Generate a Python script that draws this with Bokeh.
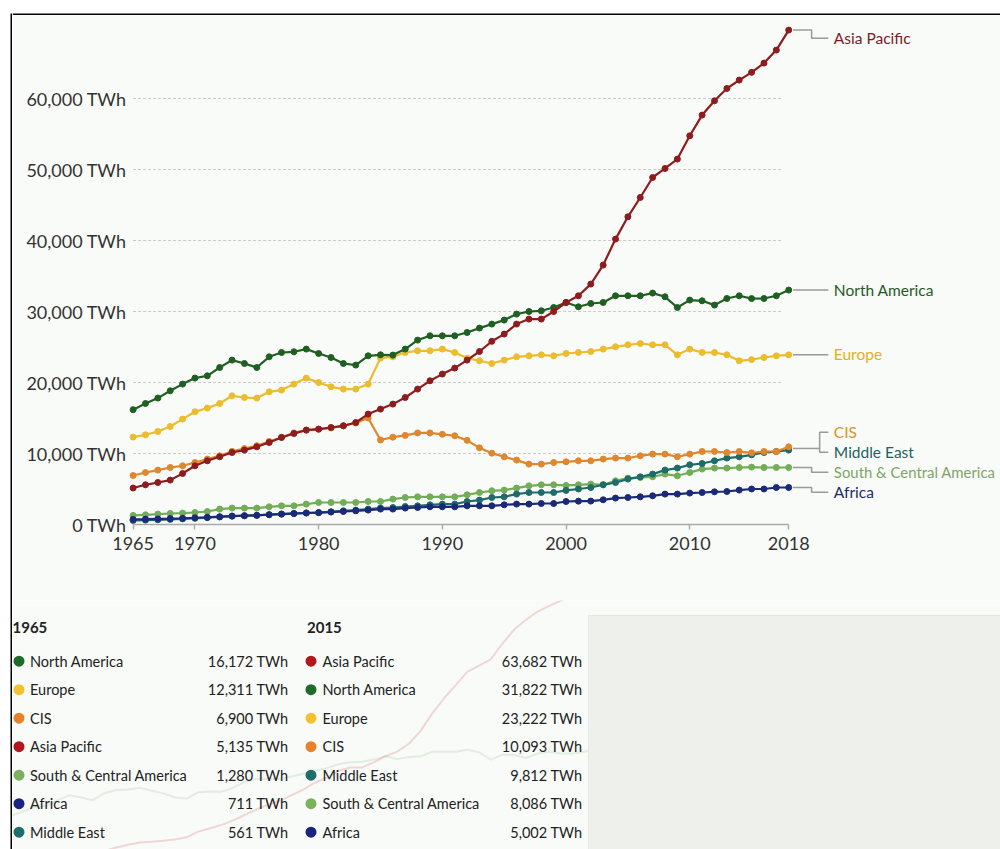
from bokeh.plotting import figure
from bokeh.models import Range1d, FixedTicker, CustomJSTickFormatter, ColumnDataSource
from bokeh.layouts import row, column
from bokeh.core.properties import value
from bokeh.embed import file_html
from bokeh.resources import INLINE

# ---------------- data ----------------
years = list(range(1965, 2019))

asia_pacific = [5135, 5592, 5916, 6254, 7183, 8268, 8972, 9536, 10141, 10479, 10944,
                11550, 12254, 12818, 13296, 13437, 13663, 13902, 14367, 15550, 16254,
                16958, 17888, 19071, 20240, 21184, 22029, 23155, 24367, 25800, 26818,
                28226, 28931, 28931, 30001, 31269, 32212, 33860, 36536, 40198, 43339,
                46058, 48875, 50143, 51466, 54748, 57663, 59678, 61411, 62593, 63682,
                64987, 66818, 69636]
north_america = [16172, 17043, 17804, 18832, 19775, 20621, 20945, 22113, 23155, 22677, 22113,
                 23620, 24226, 24325, 24705, 24086, 23522, 22677, 22451, 23761, 23902,
                 23860, 24705, 25973, 26579, 26579, 26579, 27043, 27663, 28226, 28790,
                 29634, 30001, 30100, 30565, 31269, 30663, 31128, 31269, 32212, 32212,
                 32212, 32593, 32071, 30565, 31607, 31508, 30902, 31832, 32212, 31822,
                 31832, 32212, 33015]
europe = [12311, 12634, 13099, 13803, 14846, 15874, 16395, 17043, 18128, 17888, 17804,
          18691, 18930, 19775, 20621, 20001, 19395, 19071, 19071, 19775, 23437,
          23620, 24226, 24466, 24466, 24705, 24226, 23437, 23057, 22677, 23155,
          23620, 23761, 23902, 23761, 24086, 24226, 24367, 24705, 25029, 25311,
          25494, 25311, 25311, 23902, 24705, 24226, 24226, 23902, 23057, 23222,
          23522, 23761, 23902]
cis = [6900, 7324, 7662, 8028, 8268, 8733, 9211, 9677, 10300, 10700, 11100,
       11700, 12300, 12900, 13300, 13400, 13600, 13900, 14300, 15000, 11900,
       12300, 12550, 12900, 12900, 12700, 12500, 11850, 10800, 10050, 9536,
       9071, 8507, 8507, 8733, 8831, 8972, 8972, 9211, 9352, 9352,
       9677, 9916, 9916, 9536, 9916, 10282, 10282, 10141, 10282, 10093,
       10282, 10282, 10944]
middle_east = [561, 610, 660, 720, 790, 870, 960, 1060, 1180, 1230, 1280,
               1380, 1480, 1560, 1620, 1660, 1800, 1930, 2028, 2169, 2310,
               2394, 2535, 2634, 2775, 2873, 2873, 3240, 3437, 3803, 3901,
               4282, 4507, 4507, 4507, 4800, 5000, 5211, 5592, 5916, 6395,
               6719, 7099, 7662, 7944, 8409, 8592, 8972, 9352, 9536, 9812,
               10141, 10282, 10479]
south_central_america = [1280, 1366, 1465, 1549, 1606, 1690, 1831, 2169, 2310, 2310, 2310,
                         2493, 2634, 2634, 2873, 3099, 3099, 3099, 3099, 3240, 3240,
                         3578, 3803, 3901, 3901, 3901, 3901, 4183, 4507, 4747, 4845,
                         5127, 5451, 5592, 5592, 5500, 5592, 5690, 5592, 6155, 6535,
                         6620, 6719, 7099, 6859, 7324, 7803, 7944, 7944, 8028, 8086,
                         8028, 8028, 8028]
africa = [711, 750, 790, 830, 880, 950, 1020, 1100, 1180, 1240, 1300,
          1380, 1460, 1540, 1620, 1680, 1750, 1831, 1930, 2028, 2169,
          2169, 2310, 2394, 2493, 2493, 2493, 2634, 2634, 2634, 2775,
          2873, 2873, 2958, 2958, 3240, 3290, 3300, 3479, 3718, 3803,
          3901, 4042, 4282, 4282, 4423, 4507, 4606, 4648, 4845, 5002,
          5000, 5211, 5211]

region_names = ["Asia Pacific", "North America", "Europe", "CIS", "Middle East",
                "South & Central America", "Africa"]
region_values = [asia_pacific, north_america, europe, cis, middle_east,
                 south_central_america, africa]

x_ticks = [1965, 1970, 1980, 1990, 2000, 2010, 2018]
y_ticks = [0, 10000, 20000, 30000, 40000, 50000, 60000]
table_years = [1965, 2015]

# ---------------- styles ----------------
FONT = "Lato"
BG = "#f9fbf8"
line_colors = {"Asia Pacific": "#8e1b1e", "North America": "#1f5f22", "Europe": "#ebbd2c",
               "CIS": "#e0862c", "Middle East": "#1f6b68",
               "South & Central America": "#72ad58", "Africa": "#1b2a78"}
label_colors = {"Asia Pacific": "#7a1c1f", "North America": "#1f5a24", "Europe": "#e0b021",
                "CIS": "#d2952c", "Middle East": "#1e625f",
                "South & Central America": "#7ea565", "Africa": "#1d2b6b"}
dot_colors = {"Asia Pacific": "#b0181e", "North America": "#1e6b2a", "Europe": "#f2c12e",
              "CIS": "#e8822a", "Middle East": "#1f6e6a",
              "South & Central America": "#7cb15e", "Africa": "#1a237e"}
# label vertical positions (TWh units, de-conflicted layout)
label_y = {"Asia Pacific": 68500, "North America": 33000, "Europe": 23950, "CIS": 13000,
           "Middle East": 10180, "South & Central America": 7370, "Africa": 4550}
label_size = {"South & Central America": "14.9px"}
draw_order = ["South & Central America", "Middle East", "Africa", "CIS", "Europe",
              "North America", "Asia Pacific"]


def blank(width, height, xr, yr, bg):
    f = figure(width=width, height=height, x_range=xr, y_range=yr, title=None,
               toolbar_location=None, output_backend="svg", min_border=0,
               x_axis_location=None, y_axis_location=None)
    f.grid.visible = False
    f.outline_line_color = None
    f.background_fill_color = bg
    f.border_fill_color = bg
    return f


# ---------------- frame strips ----------------
left_strip = blank(12, 849, Range1d(0, 12), Range1d(849, 0), "#ffffff")
left_strip.quad(left=[10], right=[12], top=[13], bottom=[849], fill_color="#000000", line_color=None)

top_strip = blank(988, 15, Range1d(12, 1000), Range1d(15, 0), "#ffffff")
top_strip.quad(left=[12], right=[1000], top=[13], bottom=[15], fill_color="#000000", line_color=None)

# ---------------- main chart ----------------
PX_PER_YEAR = 12.37
PX_PER_TWH = 71.0 / 10000
x_start = 1965 - (132.6 - 12) / PX_PER_YEAR
x_end = x_start + 988 / PX_PER_YEAR
y_start = -(585 - 509) / PX_PER_TWH
y_end = 509 / PX_PER_TWH
y_axis_at = 1965 + 2.4 / PX_PER_YEAR

p = figure(width=988, height=585, x_range=Range1d(x_start, x_end), y_range=Range1d(y_start, y_end),
           title=None, toolbar_location=None, output_backend="svg", min_border=0)
p.background_fill_color = BG
p.border_fill_color = BG
p.outline_line_color = None
p.grid.visible = False

yax = p.yaxis[0]
yax.fixed_location = y_axis_at
yax.ticker = FixedTicker(ticks=y_ticks)
yax.formatter = CustomJSTickFormatter(code="return tick.toLocaleString('en-US') + ' TWh'")
yax.axis_line_color = None
yax.major_tick_line_color = None
yax.minor_tick_line_color = None
yax.major_label_text_font = FONT
yax.major_label_text_font_size = "18px"
yax.major_label_text_color = "#333333"
yax.major_label_standoff = 3

xax = p.xaxis[0]
xax.fixed_location = 0
xax.ticker = FixedTicker(ticks=x_ticks)
xax.bounds = (1965, 2018)
xax.axis_line_color = "#aaaaaa"
xax.axis_line_width = 1.5
xax.major_tick_line_color = "#aaaaaa"
xax.major_tick_line_width = 1.5
xax.major_tick_in = 0
xax.major_tick_out = 5
xax.minor_tick_line_color = None
xax.major_label_text_font = FONT
xax.major_label_text_font_size = "18px"
xax.major_label_text_color = "#333333"
xax.major_label_standoff = 7

# dashed grid lines
grid_vals = y_ticks[1:]
p.segment(x0=[1965] * len(grid_vals), x1=[2017.5] * len(grid_vals), y0=grid_vals, y1=grid_vals,
          line_color="#c9ccc8", line_width=1, line_dash="3 2")

series = dict(zip(region_names, region_values))
for name in draw_order:
    vals = series[name]
    p.line(years, vals, line_color=line_colors[name], line_width=2.2)
    p.scatter(years, vals, marker="circle", size=6, fill_color=line_colors[name],
              line_color=line_colors[name])

# connectors
x_pt = 2018.35
x_elbow = 2019.85
x_bracket = 2020.5
x_lab = 2021.2
cx, cy = [], []
for name in ["Asia Pacific", "South & Central America", "Africa"]:
    last = series[name][-1]
    cx.append([x_pt, x_elbow, x_elbow, x_lab])
    cy.append([last, last, label_y[name], label_y[name]])
for name in ["North America", "Europe"]:
    last = series[name][-1]
    cx.append([x_pt, x_lab])
    cy.append([last, last])
mid = (series["CIS"][-1] + series["Middle East"][-1]) / 2
cx.append([x_pt, x_bracket])
cy.append([mid, mid])
cx.append([x_lab, x_bracket, x_bracket, x_lab])
cy.append([label_y["CIS"], label_y["CIS"], label_y["Middle East"], label_y["Middle East"]])
p.multi_line(xs=cx, ys=cy, line_color="#9a9a9a", line_width=1.5)

lab_src = ColumnDataSource(dict(
    x=[x_lab + 0.45] * len(region_names),
    y=[label_y[n] for n in region_names],
    t=region_names,
    c=[label_colors[n] for n in region_names],
    s=[label_size.get(n, "15.5px") for n in region_names]))
p.text(x="x", y="y", text="t", text_color="c", text_font_size="s", source=lab_src,
       text_font=value(FONT), text_baseline="middle", text_align="left")

# ---------------- tables ----------------
b = blank(988, 249, Range1d(12, 1000), Range1d(849, 600), BG)

# faint background ghost of the chart
b.extra_x_ranges = {"gx": Range1d(1968.12, 2052.56)}
b.extra_y_ranges = {"gy": Range1d(11833, 63708)}
b.line(years, asia_pacific, x_range_name="gx", y_range_name="gy", line_color="#c23a3a",
       line_alpha=0.18, line_width=2)
b.line(years, north_america, x_range_name="gx", y_range_name="gy", line_color="#3d8a3d",
       line_alpha=0.12, line_width=2)

b.quad(left=[588], right=[1000], top=[615], bottom=[849], fill_color="#eef0eb",
       line_color="#e6e9e3", line_width=1)

row_y0 = 660.7
row_step = 28.5
col_x = [(12, 18.5, 29.5, 288), (306.5, 310.5, 322, 582)]
for (hx, dx, nx, vx), yr in zip(col_x, table_years):
    idx = years.index(yr)
    ranked = sorted(region_names, key=lambda n: -series[n][idx])
    ys = [row_y0 + i * row_step for i in range(len(ranked))]
    b.text(x=[hx], y=[627], text=[str(yr)], text_font=value(FONT), text_font_size=value("15px"),
           text_font_style="bold", text_color="#222222", text_baseline="middle", text_align="left")
    b.scatter(x=[dx] * len(ranked), y=ys, marker="circle", size=11,
              fill_color=[dot_colors[n] for n in ranked], line_color=None)
    b.text(x=[nx] * len(ranked), y=ys, text=ranked, text_font=value(FONT),
           text_font_size=value("14.5px"), text_color="#222222", text_baseline="middle",
           text_align="left")
    b.text(x=[vx] * len(ranked), y=ys, text=[f"{series[n][idx]:,} TWh" for n in ranked],
           text_font=value(FONT), text_font_size=value("14.5px"), text_color="#222222",
           text_baseline="middle", text_align="right")

layout = row(left_strip, column(top_strip, p, b))
open("out.html", "w").write(file_html(layout, INLINE))
